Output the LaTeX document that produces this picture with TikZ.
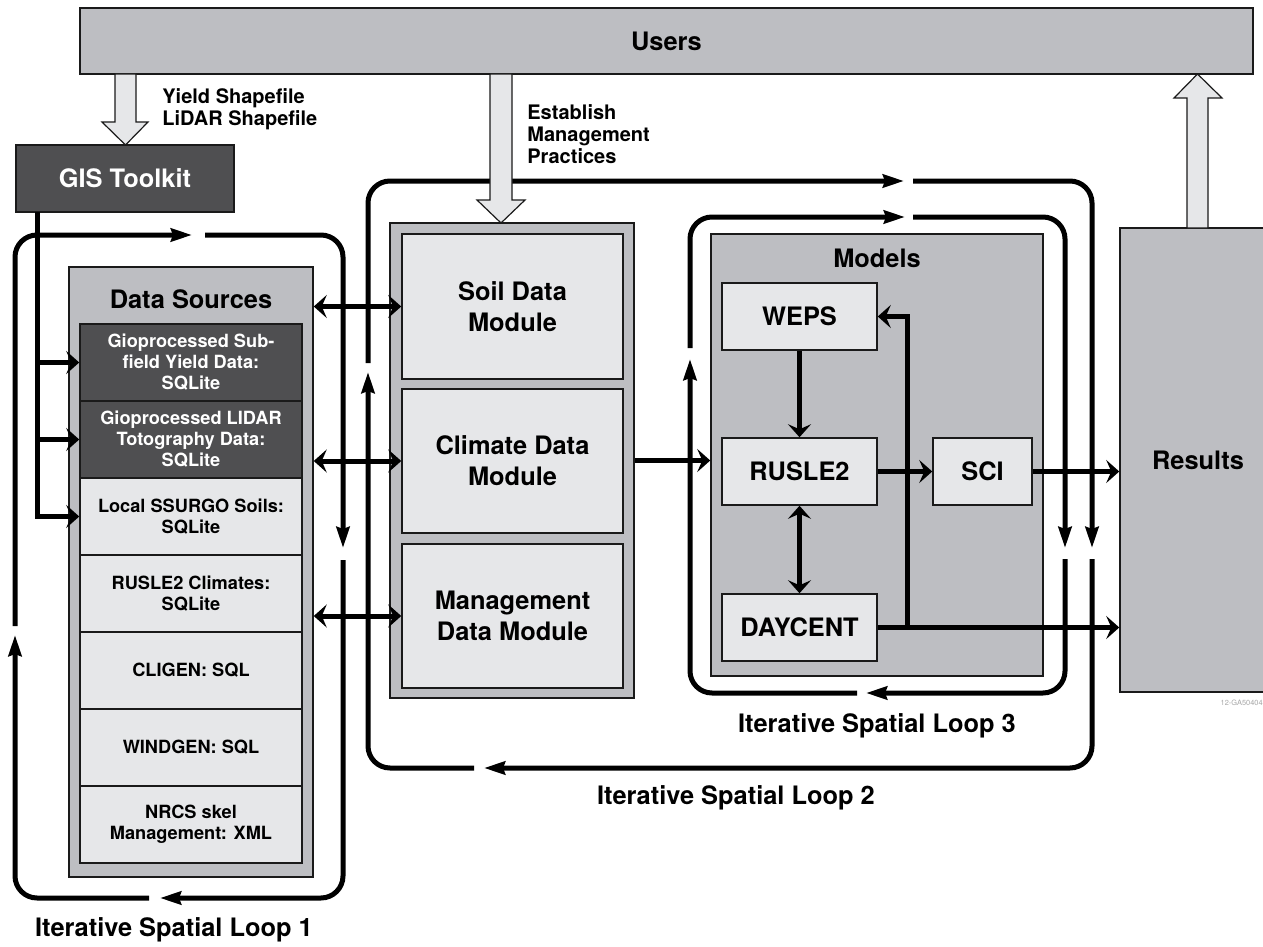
\documentclass[tikz,border=0pt]{standalone}
\usepackage{fontspec}
\setmainfont{TeX Gyre Heros}
\usetikzlibrary{positioning, arrows.meta}

\definecolor{boxmid}{HTML}{BDBEC2}
\definecolor{boxlight}{HTML}{E6E7E9}
\definecolor{boxdark}{HTML}{4F4F51}
\definecolor{ink}{HTML}{1A1A1A}

\begin{document}
\begin{tikzpicture}[x=0.5pt, y=-0.5pt,
  bigtext/.style={font=\fontsize{12.7}{15.5}\selectfont\bfseries, align=center},
  smalltext/.style={font=\fontsize{9.1}{10.5}\selectfont\bfseries},
  notetext/.style={font=\fontsize{10}{11}\selectfont\bfseries, align=left, inner sep=0pt},
  box/.style={draw=ink, line width=0.75pt, inner sep=0pt, align=center},
  gbox/.style={box, fill=boxmid},
  lbox/.style={box, fill=boxlight, text=black},
  dbox/.style={box, fill=boxdark, text=white},
  entry/.style={smalltext, minimum width=111pt, minimum height=38.5pt},
  conn/.style={line width=2.5pt, -{Stealth[length=6.5pt, width=11.5pt, inset=2.5pt]}},
  biconn/.style={line width=2.5pt, {Stealth[length=6.5pt, width=11.5pt, inset=2.5pt]}-{Stealth[length=6.5pt, width=11.5pt, inset=2.5pt]}},
  iter/.style={line width=2.5pt, rounded corners=11pt, -{Stealth[length=10.5pt, width=6.5pt, inset=1pt]}},
  hollow/.style={draw=ink, line width=0.6pt, fill=boxlight}]

  \clip (0,0) rectangle (1263,947);

  % top bar and GIS toolkit
  \node[gbox, bigtext, minimum width=586.5pt, minimum height=33pt] (users) at (666.5,41) {Users};
  \node[dbox, bigtext, minimum width=109pt, minimum height=33.5pt] (gis) at (125,178.5) {GIS Toolkit};
  \node[notetext, anchor=west] (shapes) at (162,109) {Yield Shapefile\\LiDAR Shapefile};
  \node[notetext, anchor=west] (practices) at (527,134) {Establish\\Management\\Practices};

  % data sources
  \node[gbox, minimum width=122pt, minimum height=305pt] (ds) at (191,572) {};
  \node[bigtext] (dstitle) at (191,299) {Data Sources};
  \node[dbox, entry] (ds1) at (191,362.5) {Gioprocessed Sub-\\field Yield Data:\\SQLite};
  \node[dbox, entry] (ds2) at (191,439.5) {Gioprocessed LIDAR\\Totography Data:\\SQLite};
  \node[lbox, entry] (ds3) at (191,516.5) {Local SSURGO Soils:\\SQLite};
  \node[lbox, entry] (ds4) at (191,593.5) {RUSLE2 Climates:\\SQLite};
  \node[lbox, entry] (ds5) at (191,670.5) {CLIGEN: SQL};
  \node[lbox, entry] (ds6) at (191,747.5) {WINDGEN: SQL};
  \node[lbox, entry] (ds7) at (191,824.5) {NRCS skel\\Management: XML};

  % data modules
  \node[gbox, minimum width=122pt, minimum height=237.5pt] (mods) at (512,460.5) {};
  \node[lbox, bigtext, minimum width=110.5pt, minimum height=72.5pt] (soil) at (512.5,306.5) {Soil Data\\Module};
  \node[lbox, bigtext, minimum width=110.5pt, minimum height=72pt] (climate) at (512.5,461) {Climate Data\\Module};
  \node[lbox, bigtext, minimum width=110.5pt, minimum height=72pt] (mgmt) at (512.5,616) {Management\\Data Module};

  % models
  \node[gbox, minimum width=166pt, minimum height=221pt] (models) at (877,455) {};
  \node[bigtext] (modtitle) at (877,258) {Models};
  \node[lbox, bigtext, minimum width=77.5pt, minimum height=33.5pt] (weps) at (799.5,316.5) {WEPS};
  \node[lbox, bigtext, minimum width=77.5pt, minimum height=33.5pt] (rusle) at (799.5,471.5) {RUSLE2};
  \node[lbox, bigtext, minimum width=49.5pt, minimum height=33.5pt] (sci) at (982.5,471.5) {SCI};
  \node[lbox, bigtext, minimum width=77.5pt, minimum height=33.5pt] (daycent) at (799.5,627.5) {DAYCENT};

  \node[gbox, bigtext, minimum width=78pt, minimum height=232pt] (results) at (1198,460) {Results};
  \node[font=\fontsize{3.7}{4}\selectfont, text=gray!70, anchor=east, inner sep=0pt] (tag) at (1263,703) {12-GA50404};

  % iterative loops
  \draw[iter] (205,235) -- (343,235) -- (343,548);
  \draw[iter] (343,560) -- (343,898) -- (160,898);
  \draw[iter] (149,898) -- (15,898) -- (15,635);
  \draw[iter] (15,626) -- (15,235) -- (192,235);

  \draw[iter] (913,181) -- (1092,181) -- (1092,548);
  \draw[iter] (1092,559) -- (1092,768) -- (484,768);
  \draw[iter] (474,768) -- (368,768) -- (368,372);
  \draw[iter] (368,363) -- (368,181) -- (904,181);

  \draw[iter] (913,217) -- (1065,217) -- (1065,548);
  \draw[iter] (1065,559) -- (1065,693) -- (866,693);
  \draw[iter] (857,693) -- (690,693) -- (690,359);
  \draw[iter] (690,348) -- (690,217) -- (905,217);

  \node[bigtext] (loop1) at (174,930) {Iterative Spatial Loop 1};
  \node[bigtext] (loop2) at (736,798) {Iterative Spatial Loop 2};
  \node[bigtext] (loop3) at (877,726) {Iterative Spatial Loop 3};

  % connectors
  \coordinate (gisx) at (37,212);
  \draw[conn] (gisx) |- (ds3.west);
  \draw[conn] (gisx |- ds1.west) -- (ds1.west);
  \draw[conn] (gisx |- ds2.west) -- (ds2.west);

  \draw[biconn] (ds.east |- soil.west) -- (soil.west);
  \draw[biconn] (ds.east |- climate.west) -- (climate.west);
  \draw[biconn] (ds.east |- mgmt.west) -- (mgmt.west);
  \draw[conn] (mods.east) -- (models.west |- mods.east);

  \draw[conn] (weps) -- (rusle);
  \draw[biconn] (rusle) -- (daycent);
  \draw[conn] (rusle) -- (sci);
  \draw[conn] (sci.east) -- (sci.east -| results.west);
  \draw[conn] (daycent.east) -- (daycent.east -| results.west);
  \coordinate (back) at (907,627.5);
  \draw[conn] (back) |- (weps.east);

  % block arrows to and from the users
  \draw[hollow] (115,74) -- (136,74) -- (136,122) -- (148,122) -- (125.5,145) -- (102,122) -- (115,122) -- cycle;
  \draw[hollow] (490,74) -- (512,74) -- (512,200) -- (525,200) -- (501,223) -- (477,200) -- (490,200) -- cycle;
  \draw[hollow] (1187,228) -- (1187,98) -- (1174,98) -- (1197.5,74) -- (1222,98) -- (1208,98) -- (1208,228) -- cycle;

\end{tikzpicture}
\end{document}
